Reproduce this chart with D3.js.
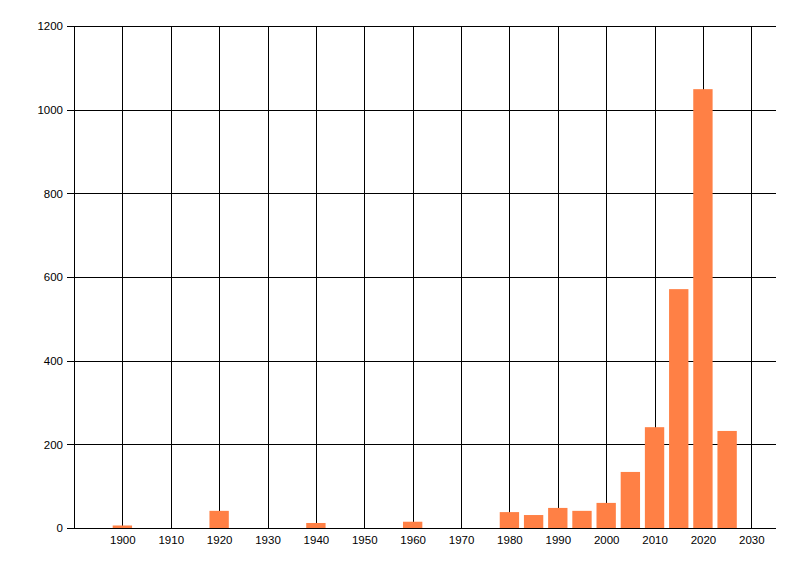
<!DOCTYPE html>
<html>
<head>
<meta charset="utf-8">
<script src="https://cdn.jsdelivr.net/npm/d3@7"></script>
<style>
  body { margin: 0; background: #fff; }
</style>
</head>
<body>
<div id="chart-area"></div>
<script>
// bar data: year of each bar and its value
const years = [1900, 1920, 1940, 1960, 1980, 1985, 1990, 1995, 2000, 2005, 2010, 2015, 2020, 2025]
const counts = [6, 41, 12, 15, 38, 31, 48, 41, 60, 134, 241, 571, 1049, 232]
const xTicks = [1900, 1910, 1920, 1930, 1940, 1950, 1960, 1970, 1980, 1990, 2000, 2010, 2020, 2030]
const yTicks = [0, 200, 400, 600, 800, 1000, 1200]

const width = 800, height = 576
const plotLeft = 74, plotRight = 775.5, plotTop = 26, plotBottom = 528
const labelFont = "Liberation Sans, Arial, sans-serif"

const svg = d3.select("#chart-area").append("svg")
    .attr("width", width)
    .attr("height", height)

const x = d3.scaleLinear().domain([1890, 2035]).range([plotLeft, plotRight])
const y = d3.scaleLinear().domain([0, 1200]).range([plotBottom, plotTop])

// horizontal grid lines (with the little tick stub on the left)
svg.append("g")
    .attr("transform", `translate(${plotLeft},0)`)
    .call(d3.axisLeft(y).tickValues(yTicks).tickFormat(d3.format("d")).tickSize(-(plotRight - plotLeft)).tickSizeOuter(0).tickPadding(11))
    .call(g => g.select(".domain").remove())
    .call(g => g.selectAll(".tick line").attr("x1", -7).attr("stroke", "#000").attr("shape-rendering", "crispEdges"))
    .call(g => g.selectAll(".tick text").attr("font-size", 11.5).attr("font-family", labelFont).attr("fill", "#000"))

// vertical grid lines
svg.append("g")
    .attr("transform", `translate(0,${plotBottom})`)
    .call(d3.axisBottom(x).tickValues(xTicks).tickFormat(d3.format("d")).tickSize(-(plotBottom - plotTop)).tickSizeOuter(0).tickPadding(8))
    .call(g => g.select(".domain").remove())
    .call(g => g.selectAll(".tick line").attr("stroke", "#000").attr("shape-rendering", "crispEdges"))
    .call(g => g.selectAll(".tick text").attr("font-size", 11.5).attr("font-family", labelFont).attr("fill", "#000"))

// bars
const barW = x(1904) - x(1900)
svg.append("g").selectAll("rect")
    .data(years)
    .join("rect")
    .attr("x", (d) => x(d) - barW / 2)
    .attr("width", barW)
    .attr("y", (d, i) => y(counts[i]))
    .attr("height", (d, i) => y(0) - y(counts[i]))
    .attr("fill", "#ff8045")

// axis lines
svg.append("line")
    .attr("x1", plotLeft).attr("x2", plotLeft)
    .attr("y1", plotTop).attr("y2", plotBottom)
    .attr("stroke", "#000")
    .attr("shape-rendering", "crispEdges")
svg.append("line")
    .attr("x1", plotLeft).attr("x2", plotRight)
    .attr("y1", plotBottom).attr("y2", plotBottom)
    .attr("stroke", "#000")
    .attr("shape-rendering", "crispEdges")
</script>
</body>
</html>
